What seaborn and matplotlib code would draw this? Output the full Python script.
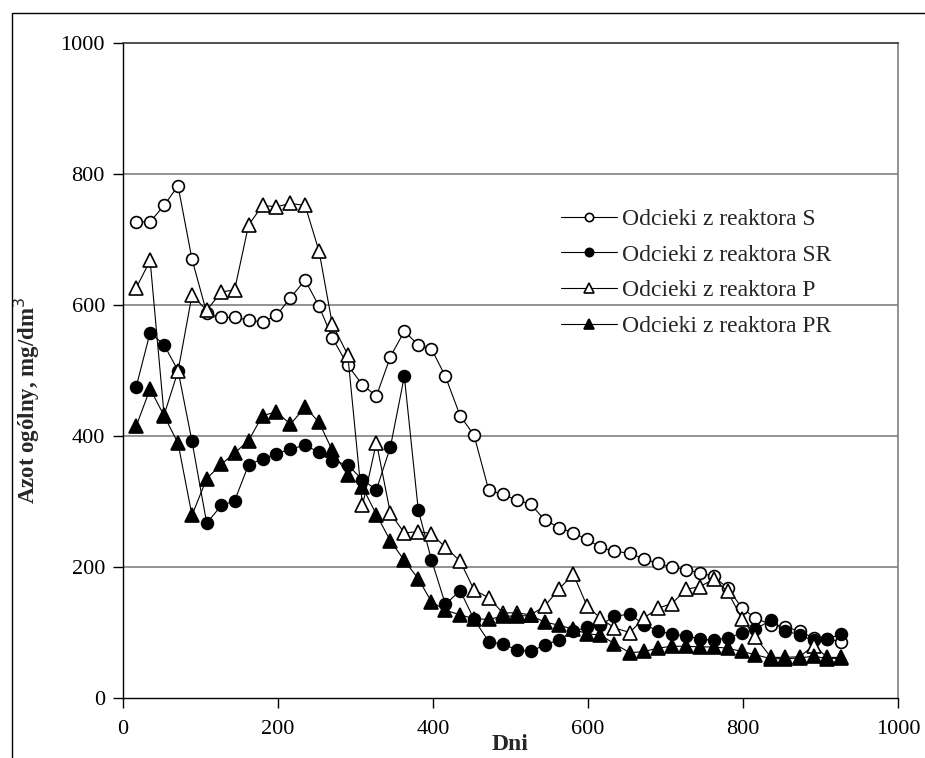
import matplotlib
matplotlib.use("Agg")
import matplotlib.pyplot as plt
import seaborn as sns
from matplotlib.patches import Rectangle

### total nitrogen in leachates from four reactors vs time (days)

days = [17, 35, 53, 71, 89, 108, 127, 144, 162, 180, 198, 216, 235, 253, 270,
        290, 309, 327, 345, 363, 381, 398, 416, 435, 453, 472, 490, 508, 526, 544,
        563, 581, 599, 616, 634, 654, 672, 690, 708, 727, 744, 762, 780, 799, 816,
        836, 854, 873, 891, 909, 927]

s_vals = [727, 727, 752, 782, 670, 588, 581, 581, 577, 574, 584, 611, 638, 598, 550,
          508, 478, 461, 521, 560, 539, 533, 491, 431, 401, 317, 311, 302, 296, 272,
          260, 252, 242, 230, 224, 221, 212, 206, 200, 196, 191, 186, 168, 137, 122,
          112, 109, 102, 92, 90, 86]

sr_vals = [475, 558, 539, 500, 392, 267, 294, 301, 356, 365, 373, 380, 386, 375, 362,
           356, 333, 318, 383, 491, 287, 211, 143, 164, 120, 86, 82, 74, 71, 81,
           89, 102, 108, 111, 125, 128, 112, 103, 97, 95, 90, 88, 92, 99, 105,
           119, 103, 96, 88, 90, 98]

p_vals = [626, 668, 432, 499, 615, 592, 620, 623, 722, 752, 750, 755, 752, 682, 571,
          524, 294, 390, 282, 252, 254, 251, 230, 209, 165, 153, 130, 130, 127, 140,
          167, 189, 140, 122, 107, 100, 122, 137, 144, 166, 170, 181, 163, 120, 93,
          62, 62, 63, 80, 62, 62]

pr_vals = [415, 472, 431, 389, 279, 335, 357, 374, 393, 431, 437, 418, 444, 421, 378,
           340, 322, 280, 240, 210, 182, 147, 134, 127, 121, 120, 125, 125, 126, 116,
           111, 105, 98, 96, 83, 69, 71, 76, 79, 79, 78, 78, 76, 71, 66,
           60, 60, 61, 64, 60, 61]

labels = ["Odcieki z reaktora S", "Odcieki z reaktora SR",
          "Odcieki z reaktora P", "Odcieki z reaktora PR"]

sns.set_style("white")
plt.rcParams['font.family'] = ['Liberation Serif', 'DejaVu Serif']

fig = plt.figure(figsize=(9.25, 7.58), dpi=100)
ax = fig.add_axes([123/925, 1-698/758, 775/925, 655/758])

## marker style per series: (marker, face, size)
styles = [("o", "white", 8.5), ("o", "black", 8.5), ("^", "white", 9.5), ("^", "black", 9.5)]
for k, (vals, lab) in enumerate(zip([s_vals, sr_vals, p_vals, pr_vals], labels)):
    mk, fc, ms = styles[k]
    sns.lineplot(x=days, y=vals, ax=ax, color="black", lw=0.8, marker=mk,
                 markerfacecolor=fc, markeredgecolor="black", markeredgewidth=1.2,
                 markersize=ms, label=lab, zorder=3+k)

ax.set_xlim(0, 1000)
ax.set_ylim(0, 1000)
ax.set_xticks([0, 200, 400, 600, 800, 1000])
ax.set_yticks([0, 200, 400, 600, 800, 1000])
for yv in [200, 400, 600, 800]:
    ax.axhline(yv, color="#808080", lw=1.2, zorder=1)

ax.tick_params(axis="both", direction="out", length=7, width=1, labelsize=16,
               left=True, bottom=True, colors="black")
ax.tick_params(axis="x", pad=9)
ax.tick_params(axis="y", pad=6)
for side in ["left", "bottom"]:
    ax.spines[side].set_color("black")
    ax.spines[side].set_linewidth(1)
ax.spines["top"].set_color("#333333")
ax.spines["top"].set_linewidth(1.2)
ax.spines["right"].set_color("#808080")
ax.spines["right"].set_linewidth(1.2)

ax.set_xlabel("Dni", fontsize=17, fontweight="bold")
ax.set_ylabel("Azot ogólny, mg/dm$^3$", fontsize=16.5, fontweight="bold")
ax.xaxis.set_label_coords(0.5, -0.055)
ax.yaxis.set_label_coords(-0.105, 0.455)

leg = ax.legend(loc="upper left", bbox_to_anchor=(552/925, 1-199/758),
                bbox_transform=fig.transFigure, frameon=False, fontsize=17,
                handlelength=2.35, handletextpad=0.2, labelspacing=0.6,
                markerscale=0.7, borderaxespad=0)

## outer chart border (open at right/bottom as in the original crop)
fig.add_artist(Rectangle((12/925, -0.2), 1.5, 1-13/758+0.2, transform=fig.transFigure,
                         fill=False, lw=1, edgecolor="black"))

fig.savefig("out.png", dpi=100)
